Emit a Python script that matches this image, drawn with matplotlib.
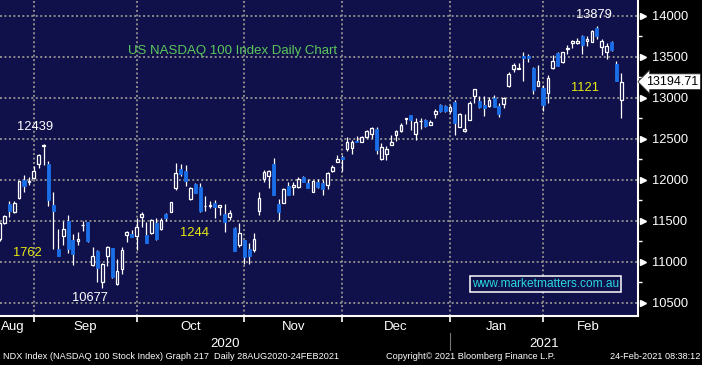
import numpy as np
import matplotlib
matplotlib.use("Agg")
import matplotlib.pyplot as plt
from matplotlib.ticker import MultipleLocator
from matplotlib.lines import Line2D

# NDX daily candles, 20 Aug 2020 .. 23 Feb 2021
opens = [11271, 11474, 11709, 11604, 11778, 12001, 11969, 12022, 12196, 12407,
         12192, 11697, 11150, 11312, 11502, 11259, 11251, 11442, 11482, 10959,
         11134, 10748, 11065, 11163, 10727, 10910, 11326, 11338, 11315, 11551,
         11327, 11347, 11478, 11404, 11584, 11612, 11898, 12135, 12110, 11763,
         11951, 11910, 11674, 11674, 11714, 11671, 11583, 11542, 11408, 11204,
         11265, 11151, 11143, 11624, 12011, 12040, 12194, 11705, 11722, 11925,
         11905, 11917, 12031, 11958, 11856, 11970, 11958, 11938, 12101, 12211,
         12276, 12374, 12382, 12476, 12463, 12516, 12561, 12618, 12255, 12317,
         12418, 12549, 12598, 12740, 12793, 12561, 12712, 12732, 12663, 12806,
         12916, 12903, 12837, 12951, 12646, 12589, 12728, 13020, 12959, 12911,
         12898, 13000, 12898, 12919, 13146, 13346, 13346, 13512, 13512, 13366,
         13146, 13114, 13061, 13356, 13541, 13438, 13590, 13664, 13664, 13746,
         13692, 13684, 13848, 13623, 13553, 13684, 13406, 12967]
highs = [11480, 11575, 11738, 11738, 11989, 12054, 12030, 12172, 12313, 12439,
         12232, 11851, 11401, 11494, 11575, 11332, 11365, 11502, 11490, 11175,
         11146, 10984, 11195, 11171, 11033, 11175, 11378, 11390, 11531, 11612,
         11490, 11515, 11531, 11531, 11590, 11727, 12204, 12196, 12175, 11910,
         11959, 11959, 11804, 11735, 11747, 11692, 11705, 11632, 11428, 11469,
         11265, 11225, 11347, 11844, 12121, 12121, 12264, 11767, 11897, 11966,
         11966, 12031, 12040, 12007, 11999, 12011, 11999, 12093, 12182, 12304,
         12304, 12516, 12480, 12537, 12537, 12610, 12643, 12643, 12447, 12406,
         12545, 12602, 12692, 12753, 12793, 12753, 12753, 12744, 12732, 12867,
         12928, 12916, 12910, 12975, 12809, 12801, 12959, 13102, 13020, 13020,
         13012, 13032, 12931, 13012, 13317, 13427, 13419, 13553, 13533, 13378,
         13398, 13154, 13274, 13520, 13553, 13562, 13643, 13705, 13733, 13766,
         13746, 13828, 13879, 13713, 13664, 13692, 13447, 13295]
lows = [11250, 11462, 11543, 11592, 11770, 11851, 11932, 12009, 12143, 12184,
        11677, 11150, 11069, 11202, 11101, 10959, 11202, 11373, 11244, 10943,
        10748, 10677, 10951, 10800, 10720, 10849, 11236, 11300, 11143, 11429,
        11225, 11340, 11266, 11388, 11502, 11612, 11878, 12041, 11918, 11755,
        11833, 11608, 11620, 11653, 11531, 11570, 11367, 11510, 11135, 11184,
        10972, 10972, 11123, 11571, 11978, 11897, 11815, 11510, 11714, 11815,
        11815, 11897, 11966, 11897, 11844, 11897, 11815, 11885, 12088, 12211,
        12101, 12345, 12317, 12455, 12455, 12508, 12508, 12317, 12235, 12243,
        12418, 12467, 12582, 12683, 12610, 12480, 12618, 12643, 12663, 12753,
        12822, 12822, 12809, 12545, 12646, 12577, 12728, 12931, 12870, 12776,
        12882, 12882, 12760, 12870, 13134, 13317, 13346, 13207, 13439, 13041,
        13146, 12841, 12938, 13348, 13389, 13418, 13528, 13610, 13651, 13528,
        13635, 13676, 13717, 13520, 13471, 13570, 13205, 12750]
closes = [11474, 11563, 11624, 11717, 11981, 11920, 11981, 12111, 12297, 12427,
          11758, 11616, 11069, 11401, 11150, 11089, 11283, 11446, 11251, 11073,
          10919, 10972, 11183, 10809, 10890, 11147, 11358, 11305, 11429, 11584,
          11233, 11510, 11274, 11510, 11531, 11727, 12082, 12073, 11980, 11898,
          11837, 11620, 11682, 11694, 11665, 11692, 11489, 11599, 11135, 11347,
          11053, 11070, 11273, 11775, 12088, 12101, 11815, 11612, 11889, 11815,
          11938, 12011, 11966, 11897, 11987, 11909, 11885, 12080, 12154, 12251,
          12255, 12455, 12459, 12455, 12520, 12598, 12630, 12357, 12398, 12374,
          12459, 12590, 12671, 12753, 12732, 12700, 12720, 12651, 12704, 12842,
          12834, 12834, 12890, 12687, 12797, 12618, 12931, 13102, 12882, 12878,
          12972, 12890, 12797, 12992, 13289, 13398, 13366, 13480, 13480, 13094,
          13203, 12911, 13242, 13447, 13389, 13553, 13602, 13692, 13692, 13643,
          13717, 13807, 13758, 13692, 13635, 13582, 13205, 13194.71]

month_names = ["Aug", "Sep", "Oct", "Nov", "Dec", "Jan", "Feb"]
month_first_idx = [8, 29, 51, 71, 93, 112]  # first trading day Sep..Feb
year_names = ["2020", "2021"]
price_ticks = [10500, 11000, 11500, 12000, 12500, 13000, 13500, 14000]
last_price = 13194.71

# chart annotations: (text, index, price, colour)
notes = [
    ("12439", 7.3, 12643, "white"),
    ("1762", 5.7, 11106, "#e8e812"),
    ("10677", 18.5, 10557, "white"),
    ("1244", 39.8, 11350, "#e8e812"),
    ("1121", 119.6, 13118, "#e8e812"),
    ("13879", 121.4, 14008, "white"),
]

NAVY = "#10104a"
BLUE = "#1a6ee8"
GRID = "#8c8c8c"

plt.rcParams["font.family"] = ["Liberation Sans", "DejaVu Sans"]

fig = plt.figure(figsize=(7.02, 3.65), dpi=100, facecolor="black")
ax = fig.add_axes([0.0, 0.1342, 0.9088, 0.8658])
ax.set_facecolor(NAVY)

o = np.array(opens, dtype=float)
h = np.array(highs, dtype=float)
l = np.array(lows, dtype=float)
c = np.array(closes, dtype=float)
x = np.arange(len(o))
up = c >= o

# wicks
ax.vlines(x, l, h, color="white", linewidth=0.9, zorder=2)
# bodies
bottom = np.minimum(o, c)
height = np.maximum(np.abs(c - o), 8)
ax.bar(x[up], height[up], bottom=bottom[up], width=0.55,
       facecolor=NAVY, edgecolor="white", linewidth=0.9, zorder=3)
ax.bar(x[~up], height[~up], bottom=bottom[~up], width=0.62,
       facecolor=BLUE, edgecolor=BLUE, linewidth=0.6, zorder=3)

ax.set_xlim(0.1, 130.4)
ax.set_ylim(10338, 14191)

# grid
grid_x = [m - 1 for m in month_first_idx]
for p in price_ticks:
    ax.axhline(p, color=GRID, linewidth=1.4, linestyle=(0, (1, 1.3)), zorder=1)
for gx in grid_x:
    ax.axvline(gx, color=GRID, linewidth=1.4, linestyle=(0, (1, 1.3)), zorder=1)

# spines
for s in ["top", "left"]:
    ax.spines[s].set_visible(False)
ax.spines["bottom"].set_color("white")
ax.spines["bottom"].set_linewidth(1.5)
ax.spines["right"].set_color("white")
ax.spines["right"].set_linewidth(1.5)

ax.set_xticks(grid_x)
ax.set_xticklabels([])
ax.tick_params(axis="x", colors="white", length=4, width=1.2, direction="out")

ax.yaxis.tick_right()
ax.set_yticks(price_ticks)
ax.set_yticklabels([str(p) for p in price_ticks])
ax.yaxis.set_minor_locator(MultipleLocator(250))
ax.tick_params(axis="y", which="major", colors="white", labelcolor="white",
               length=0, pad=10, labelsize=9.3)
ax.tick_params(axis="y", which="minor", colors="white", length=3, width=1)

# little pointer triangles next to each price label
tri_tr = ax.get_yaxis_transform()
ax.plot([1.008] * len(price_ticks), price_ticks, linestyle="none", marker=">",
        markersize=5, color="white", transform=tri_tr, clip_on=False, zorder=5)

# last price tag
ax.text(1.013, last_price, f"{last_price:.2f}", transform=tri_tr, ha="left",
        va="center", fontsize=9.0, color="black", zorder=6,
        bbox=dict(boxstyle="larrow,pad=0.15", facecolor="white",
                  edgecolor="#333333", linewidth=0.6))

# title and annotations
ax.text(47.5, 13569, "US NASDAQ 100 Index Daily Chart", color="#5cc85c",
        fontsize=9.5, ha="center", va="center", zorder=6)
for txt, xi, yp, col in notes:
    ax.text(xi, yp, txt, color=col, fontsize=9.3, ha="center", va="center", zorder=6)

ax.text(111.5, 10728, "www.marketmatters.com.au", color="#2ad8e0", fontsize=8.6,
        ha="center", va="center", zorder=6,
        bbox=dict(boxstyle="square,pad=0.18", facecolor=NAVY, edgecolor="white",
                  linewidth=1.1))

# month / year labels under the axis
xt = ax.get_xaxis_transform()
bounds = [-1.6] + grid_x + [129.5]
for i, name in enumerate(month_names):
    mid = (bounds[i] + bounds[i + 1]) / 2
    ax.text(mid, -0.036, name, transform=xt, color="white",
            fontsize=9.5, ha="center", va="center")
ax.text(46, -0.087, year_names[0], transform=xt,
        color="white", fontsize=9.5, ha="center", va="center")
ax.text(111.2, -0.087, year_names[1], transform=xt,
        color="white", fontsize=9.5, ha="center", va="center")
sep_x = ax.transData.transform((grid_x[4], 0))[0] / fig.bbox.width
fig.add_artist(Line2D([sep_x, sep_x], [0.04, 0.088], color="#777777",
                      linewidth=0.8, transform=fig.transFigure))

# footer
fig.text(0.004, 0.022, "NDX Index (NASDAQ 100 Stock Index) Graph 217  Daily 28AUG2020-24FEB2021",
         color="white", fontsize=6.6, ha="left", va="center")
fig.text(0.55, 0.022, "Copyright\u00a9 2021 Bloomberg Finance L.P.", color="white",
         fontsize=6.6, ha="left", va="center")
fig.text(0.997, 0.022, "24-Feb-2021 08:38:12", color="white", fontsize=6.6,
         ha="right", va="center")

fig.savefig("out.png", dpi=100, facecolor="black")
